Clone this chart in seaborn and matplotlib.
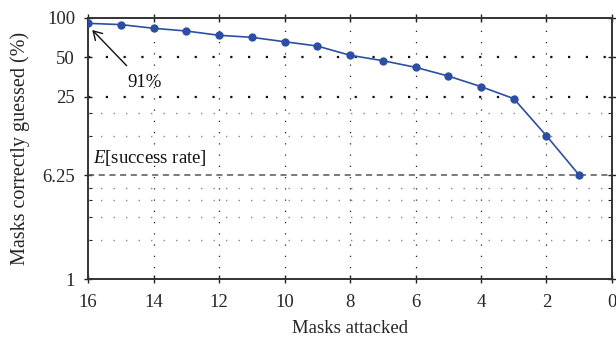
import matplotlib
matplotlib.use("Agg")
import matplotlib.pyplot as plt
import seaborn as sns
import pandas as pd
from matplotlib.ticker import FixedLocator, NullFormatter

masks_attacked = [16, 15, 14, 13, 12, 11, 10, 9, 8, 7, 6, 5, 4, 3, 2, 1]
correct_pct = [91, 89, 83.4, 79.5, 73.7, 71.1, 65.8, 61.0, 51.8, 47.1, 41.9, 35.9, 29.8, 24.1, 12.5, 6.25]
expected_rate = 6.25
y_major = [1, 6.25, 25, 50, 100]
y_major_labels = ["1", "6.25", "25", "50", "100"]
y_minor = [2, 3, 4, 5, 12.5, 18.75]
x_ticks = [16, 14, 12, 10, 8, 6, 4, 2, 0]

sns.set_theme(style="ticks")
plt.rcParams["font.family"] = ["Liberation Serif", "DejaVu Serif"]
plt.rcParams["mathtext.fontset"] = "custom"
plt.rcParams["mathtext.rm"] = "Liberation Serif"
plt.rcParams["mathtext.it"] = "Liberation Serif:italic"

df = pd.DataFrame({"attacked": masks_attacked, "pct": correct_pct})

fig = plt.figure(figsize=(6.16, 3.46), dpi=100)
ax = fig.add_axes([0.1429, 0.1936, 0.8506, 0.7544])

blue = "#2d4fa3"
sns.lineplot(data=df, x="attacked", y="pct", ax=ax, color=blue, lw=1.2,
             marker="o", markersize=6, markeredgewidth=0, zorder=5)

ax.set_yscale("log")
ax.set_ylim(1, 100)
ax.set_xlim(16, 0)
ax.yaxis.set_major_locator(FixedLocator(y_major))
ax.set_yticklabels(y_major_labels)
ax.yaxis.set_minor_locator(FixedLocator(y_minor))
ax.yaxis.set_minor_formatter(NullFormatter())
ax.set_xticks(x_ticks)
ax.set_xticklabels([str(t) for t in x_ticks])

fs = 13.5
ax.tick_params(axis="both", which="both", top=True, right=True,
               labelsize=fs, color="#222222")
ax.tick_params(axis="both", which="major", direction="inout", length=6, width=1)
ax.tick_params(axis="x", which="major", pad=8)
ax.tick_params(axis="y", which="major", pad=6.3)
ax.tick_params(axis="y", which="minor", direction="in", length=3, width=0.8)

for sp in ax.spines.values():
    sp.set_color("#333333")
    sp.set_linewidth(1.4)

# grid lines
for v in x_ticks[1:-1]:
    ax.axvline(v, color="#222222", lw=0.9, ls=(0, (1, 8)), zorder=1)
for v in [25, 50]:
    ax.axhline(v, color="#111111", lw=1.6, ls=(0, (1, 7)), zorder=1)
for v in y_minor:
    ax.axhline(v, color="#888888", lw=1.0, ls=(0, (1, 8)), zorder=1)

ax.axhline(expected_rate, color="#555555", lw=1.1, ls=(0, (4, 3)), zorder=2)
ax.text(15.86, 7.09, "$E$[success rate]", fontsize=fs, ha="left", va="bottom", color="#111111")

ax.text(14.81, 37.2, "91%", fontsize=fs, ha="left", va="top", color="#111111")
ax.annotate("", xy=(15.87, 80.9), xytext=(14.82, 43.1),
            arrowprops=dict(arrowstyle="->,head_length=0.5,head_width=0.3",
                            color="#111111", lw=1.0, shrinkA=0, shrinkB=0))

ax.set_xlabel("Masks attacked", fontsize=fs, labelpad=6)
ax.set_ylabel("Masks correctly guessed (%)", fontsize=14.5, labelpad=9)

fig.savefig("out.png", dpi=100)
